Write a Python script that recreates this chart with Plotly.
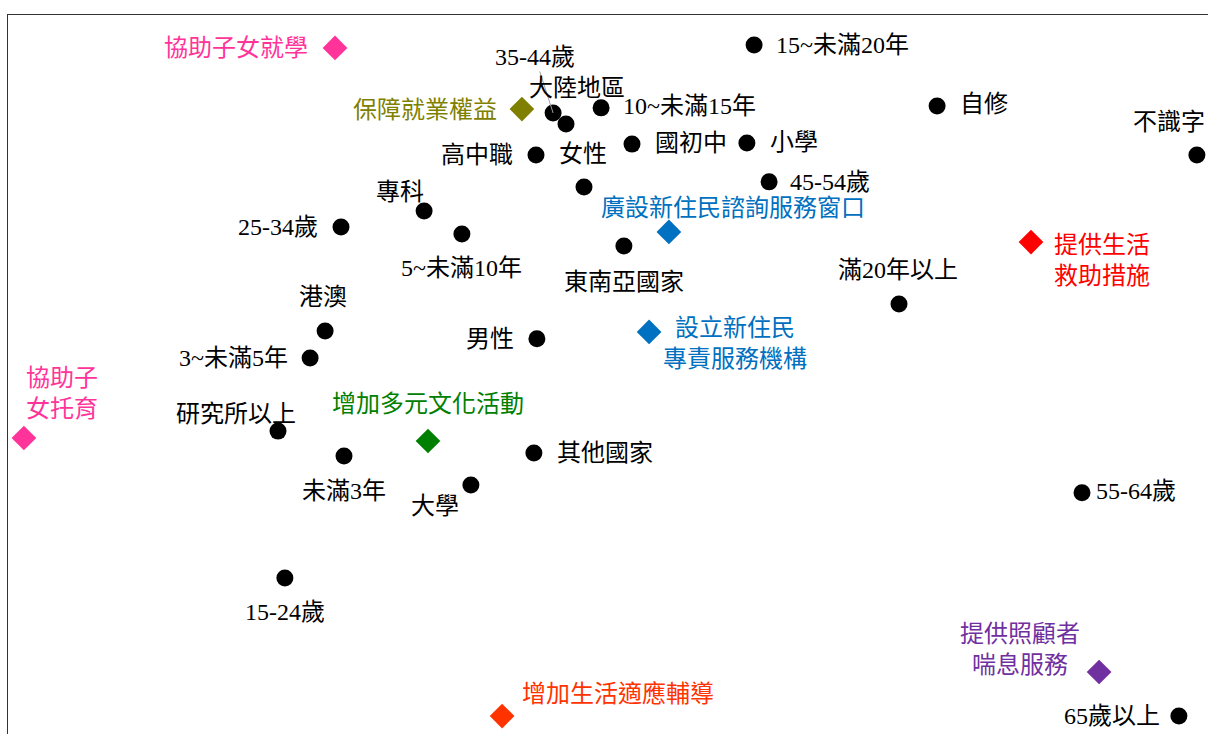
import plotly.graph_objects as go

# --- Data: correspondence-analysis coordinates (dim1, dim2) ---
group_names = ["15~未滿20年", "35-44歲", "大陸地區", "10~未滿15年", "國初中", "小學",
               "高中職", "女性", "45-54歲", "專科", "5~未滿10年", "25-34歲",
               "東南亞國家", "自修", "不識字", "滿20年以上", "港澳", "3~未滿5年",
               "男性", "研究所以上", "未滿3年", "大學", "其他國家", "55-64歲",
               "15-24歲", "65歲以上"]
group_dim1 = [0.487, -0.183, -0.140, -0.023, 0.080, 0.463,
              -0.240, -0.080, 0.537, -0.613, -0.487, -0.890,
              0.053, 1.097, 1.963, 0.970, -0.943, -0.993,
              -0.237, -1.100, -0.880, -0.457, -0.247, 1.580,
              -1.077, 1.903]
group_dim2 = [1.100, 0.873, 0.836, 0.890, 0.769, 0.773,
              0.733, 0.626, 0.643, 0.546, 0.469, 0.492,
              0.429, 0.896, 0.733, 0.235, 0.145, 0.055,
              0.119, -0.189, -0.272, -0.369, -0.262, -0.395,
              -0.679, -1.140]

measure_names = ["協助子女就學", "保障就業權益", "廣設新住民諮詢服務窗口",
                 "設立新住民<br>專責服務機構", "提供生活<br>救助措施", "協助子<br>女托育",
                 "增加多元文化活動", "增加生活適應輔導", "提供照顧者<br>喘息服務"]
measure_dim1 = [-0.910, -0.287, 0.203, 0.137, 1.410, -1.947, -0.600, -0.353, 1.637]
measure_dim2 = [1.090, 0.886, 0.476, 0.142, 0.442, -0.212, -0.222, -1.140, -0.993]

# --- Styles ---
measure_colors = ["#FF3399", "#808000", "#0070C0", "#0070C0", "#FF0000",
                  "#FF3399", "#008000", "#FF3300", "#7030A0"]
FONT = "Liberation Serif, Noto Sans CJK TC, serif"
FS = 24

# label placement (xanchor, xshift px, yshift px)
group_label_pos = {
    "15~未滿20年": ("left", 20, 0), "大陸地區": ("center", 11, 36),
    "10~未滿15年": ("left", 20, 2), "國初中": ("left", 21, 1), "小學": ("left", 21, 1),
    "高中職": ("right", -21, 0), "女性": ("center", -1, 33), "45-54歲": ("left", 19, 0),
    "專科": ("center", -24, 19), "5~未滿10年": ("center", 0, -34),
    "25-34歲": ("right", -21, 0), "東南亞國家": ("center", 0, -36),
    "自修": ("left", 21, 2), "不識字": ("center", -28, 33),
    "滿20年以上": ("center", -1, 34), "港澳": ("center", -2, 34),
    "3~未滿5年": ("right", -20, 0), "男性": ("right", -21, 0),
    "研究所以上": ("center", -42, 17), "未滿3年": ("center", 0, -35),
    "大學": ("center", -36, -21), "其他國家": ("left", 21, 0),
    "55-64歲": ("left", 12, 2), "15-24歲": ("center", 0, -34),
    "65歲以上": ("right", -17, 0),
}
measure_label_pos = [("right", -25, 0, "right"), ("right", -23, -1, "right"),
                     ("center", 64, 24, "center"), ("center", 86, -12, "center"),
                     ("left", 21, -18, "left"), ("center", 38, 45, "center"),
                     ("center", 0, 37, "center"), ("center", 116, 22, "center"),
                     ("center", -79, 22, "center")]

fig = go.Figure()
fig.add_trace(go.Scatter(x=group_dim1, y=group_dim2, mode="markers",
                         marker=dict(symbol="circle", size=17, color="black"),
                         hoverinfo="skip", showlegend=False, cliponaxis=False))
fig.add_trace(go.Scatter(x=measure_dim1, y=measure_dim2, mode="markers",
                         marker=dict(symbol="diamond", size=19, color=measure_colors),
                         hoverinfo="skip", showlegend=False, cliponaxis=False))

annotations = []
for name, x, y in zip(group_names, group_dim1, group_dim2):
    if name == "35-44歲":
        annotations.append(dict(x=x, y=y, text=name, showarrow=True, arrowhead=0,
                                arrowwidth=1, arrowcolor="#A0A0A0", ax=-18, ay=-56,
                                font=dict(family=FONT, size=FS, color="black")))
        continue
    xa, xs, ys = group_label_pos[name]
    annotations.append(dict(x=x, y=y, text=name, showarrow=False, xanchor=xa,
                            yanchor="middle", xshift=xs, yshift=ys,
                            font=dict(family=FONT, size=FS, color="black")))
for name, x, y, c, (xa, xs, ys, al) in zip(measure_names, measure_dim1, measure_dim2,
                                           measure_colors, measure_label_pos):
    annotations.append(dict(x=x, y=y, text=name, showarrow=False, xanchor=xa,
                            yanchor="middle", xshift=xs, yshift=ys, align=al,
                            font=dict(family=FONT, size=FS, color=c)))

fig.update_layout(
    width=1208, height=734,
    margin=dict(l=8, r=0, t=15, b=0),
    paper_bgcolor="white", plot_bgcolor="white",
    annotations=annotations,
    xaxis=dict(range=[-2.0, 2.0], side="top", showline=True, linecolor="#333333",
               linewidth=1, showgrid=False, zeroline=False, showticklabels=False,
               ticks=""),
    yaxis=dict(range=[-1.2, 1.2], showline=True, linecolor="#333333", linewidth=1,
               showgrid=False, zeroline=False, showticklabels=False, ticks=""),
)
# remove the browser's default page margin so the figure sits at the window origin
fig.write_html("out.html",
               config={"displayModeBar": False},
               post_script="document.body.style.margin='0';"
                           "document.body.style.overflow='hidden';")
